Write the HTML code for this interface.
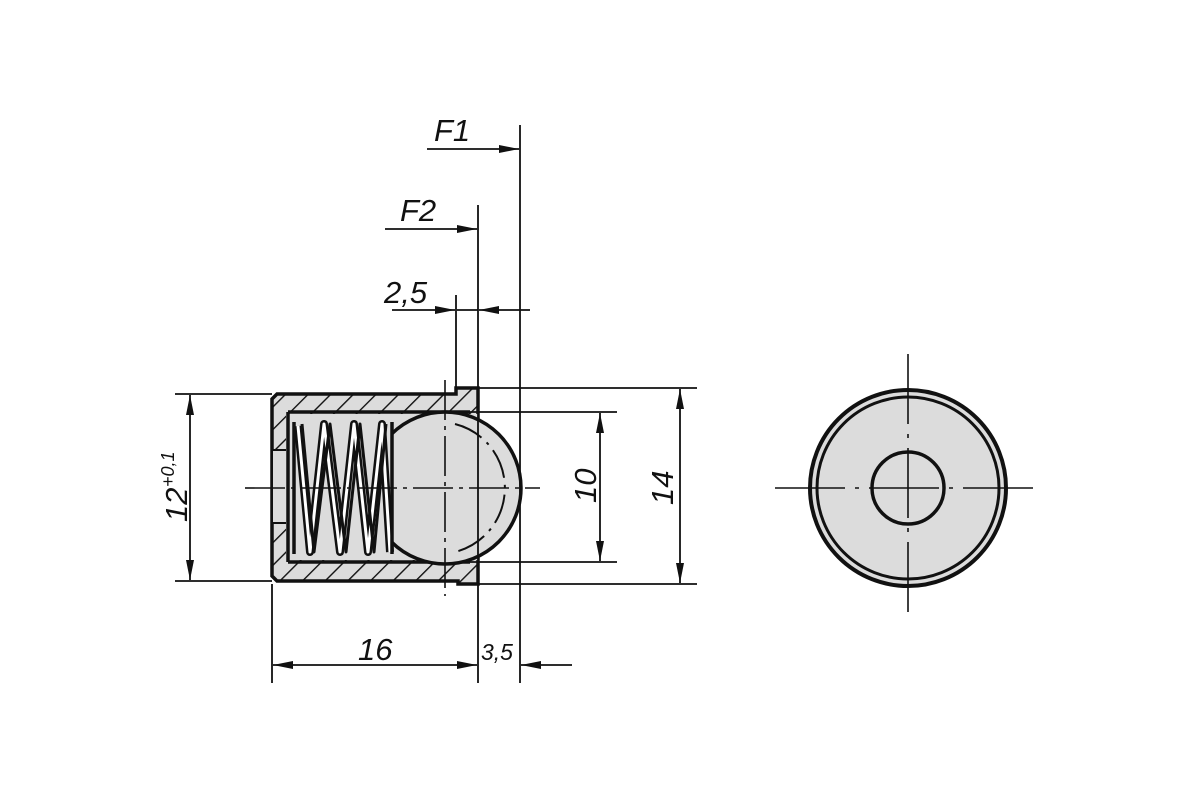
<!DOCTYPE html>
<html><head><meta charset="utf-8"><style>
html,body{margin:0;padding:0;background:#fff}
svg{display:block}
text{font-family:"Liberation Sans",sans-serif;font-style:italic;font-size:31px;fill:#111}
</style></head><body>
<svg width="1200" height="800" viewBox="0 0 1200 800" xmlns="http://www.w3.org/2000/svg">
<defs>
<pattern id="h" patternUnits="userSpaceOnUse" width="16" height="16" patternTransform="rotate(45)">
<rect width="16" height="16" fill="#dcdcdc"/>
<line x1="0" y1="0" x2="0" y2="16" stroke="#111" stroke-width="2.8"/>
</pattern>
<marker id="a" viewBox="0 0 20 8" refX="20" refY="4" markerWidth="20" markerHeight="8" markerUnits="userSpaceOnUse" orient="auto-start-reverse">
<path d="M0,0 L20,4 L0,8 Z" fill="#111"/>
</marker>
</defs>
<g stroke="#111" fill="none" stroke-width="1.8">
<path d="M277,394 H456 V388 H478 V584 H458 V581 H277 L272,576 V399 Z" fill="url(#h)" stroke-width="3.5"/>
<rect x="273" y="450" width="15" height="73" fill="#dcdcdc" stroke="none"/>
<path d="M272,450 H288 M272,523 H288" stroke-width="2"/>
<rect x="286" y="414" width="192" height="146" fill="#dcdcdc" stroke="none"/>
<path d="M288,412 H470 M288,562 H470 M288,412 V562" stroke-width="3.5"/>
<circle cx="445" cy="488" r="76" fill="#dcdcdc" stroke-width="3.5"/>
<path d="M455,424 A66,66 0 0 1 455,552" stroke-width="2" stroke-dasharray="30 7 3 7"/>
<rect x="290" y="414" width="101" height="146" fill="#dcdcdc" stroke="none"/>
<g stroke-linejoin="round">
<path d="M298,426 L310,552 L324,424 L340,552 L354,424 L368,552 L382,424 L390,552" stroke-width="8" stroke="#111"/>
<path d="M298,426 L310,552 L324,424 L340,552 L354,424 L368,552 L382,424 L390,552" stroke-width="3" stroke="#fff"/>
<path d="M302,424 L314,552 L330,424 L346,552 L360,424 L374,552 L386,424" stroke-width="3" stroke="#111"/>
</g>
<path d="M294,422 V554 M392,422 V554" stroke-width="3.5"/>
<path d="M245,488 H540" stroke-width="1.6" stroke-dasharray="40 6 4 6"/>
<path d="M445,380 V596" stroke-width="1.6" stroke-dasharray="40 6 4 6"/>
<path d="M175,394 H272 M175,581 H272 M478,388 H697 M478,584 H697 M470,412 H617 M470,562 H617"/>
<path d="M272,584 V683 M478,205 V683 M520,125 V683 M456,295 V388"/>
<path d="M190,395 V580" marker-start="url(#a)" marker-end="url(#a)"/>
<path d="M600,413 V561" marker-start="url(#a)" marker-end="url(#a)"/>
<path d="M680,389 V583" marker-start="url(#a)" marker-end="url(#a)"/>
<path d="M273,665 H477" marker-start="url(#a)" marker-end="url(#a)"/>
<path d="M572,665 H521" marker-end="url(#a)"/>
<path d="M427,149 H519" marker-end="url(#a)"/>
<path d="M385,229 H477" marker-end="url(#a)"/>
<path d="M392,310 H455" marker-end="url(#a)"/>
<path d="M530,310 H479" marker-end="url(#a)"/>
<path d="M457,310 H478"/>
<circle cx="908" cy="488" r="98" fill="#dcdcdc" stroke-width="4"/>
<circle cx="908" cy="488" r="91" stroke-width="3"/>
<circle cx="908" cy="488" r="36" stroke-width="3.5"/>
<path d="M775,488 H1042" stroke-width="1.6" stroke-dasharray="70 10 4 10"/>
<path d="M908,354 V622" stroke-width="1.6" stroke-dasharray="70 10 4 10"/>
</g>
<text x="434" y="141">F1</text>
<text x="400" y="221">F2</text>
<text x="384" y="303">2,5</text>
<text x="358" y="660">16</text>
<text x="481" y="660" style="font-size:23px">3,5</text>
<text transform="translate(187,522) rotate(-90)">12</text>
<text transform="translate(174,487) rotate(-90)" style="font-size:18px">+0,1</text>
<text transform="translate(596,503) rotate(-90)">10</text>
<text transform="translate(673,505) rotate(-90)">14</text>
</svg>
</body></html>
